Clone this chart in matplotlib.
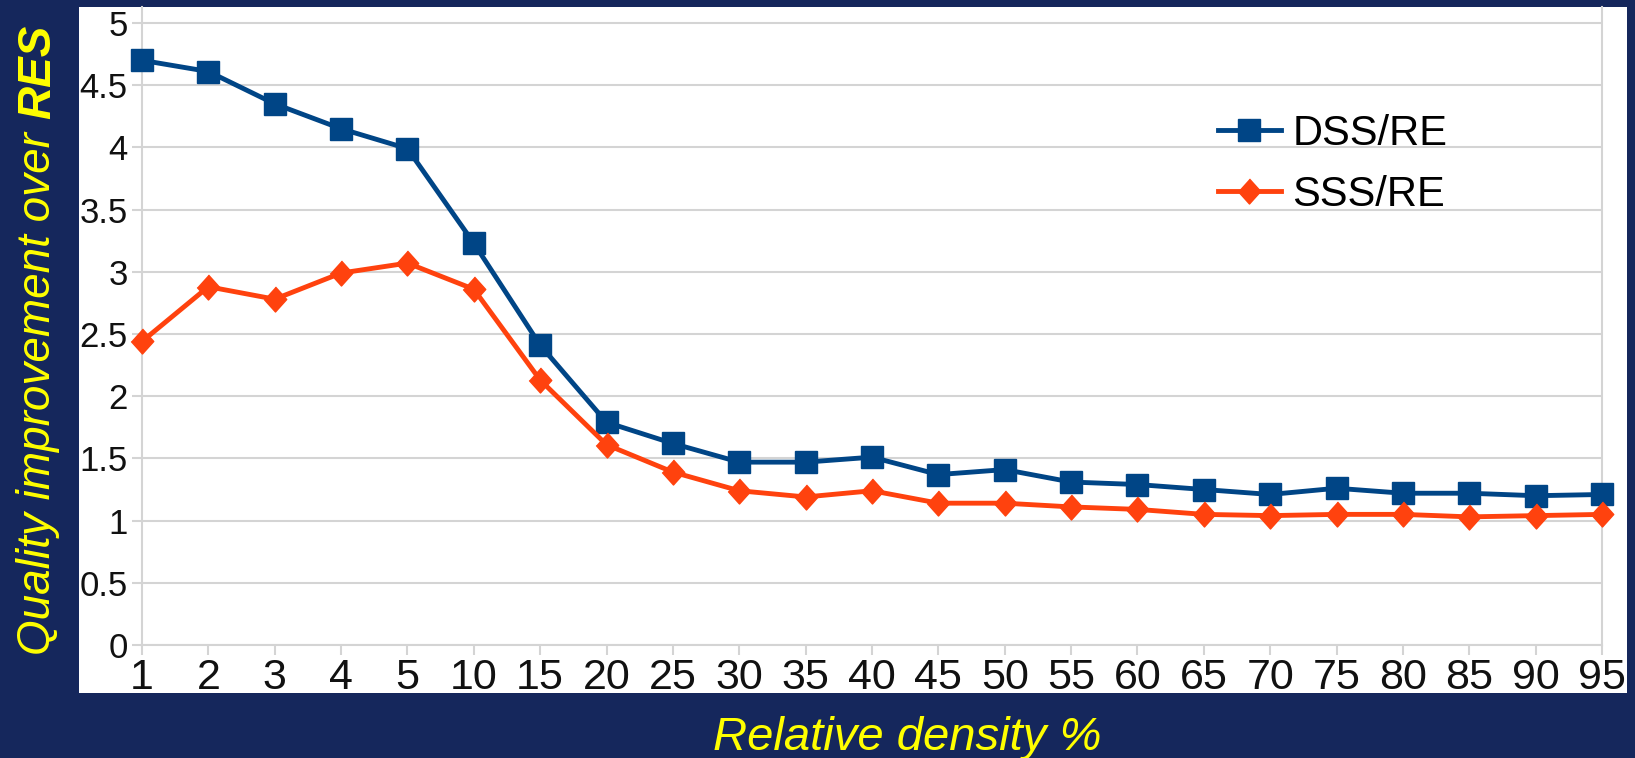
import matplotlib
matplotlib.use('Agg')
import matplotlib.pyplot as plt
from matplotlib.patches import Rectangle

# values
densities = ['1', '2', '3', '4', '5', '10', '15', '20', '25', '30', '35', '40',
             '45', '50', '55', '60', '65', '70', '75', '80', '85', '90', '95']
dss_re = [4.70, 4.61, 4.35, 4.15, 3.99, 3.23, 2.41, 1.79, 1.62, 1.47, 1.47, 1.51,
          1.37, 1.41, 1.31, 1.29, 1.25, 1.21, 1.26, 1.22, 1.22, 1.20, 1.21]
sss_re = [2.44, 2.88, 2.78, 2.99, 3.07, 2.86, 2.13, 1.61, 1.39, 1.24, 1.19, 1.24,
          1.14, 1.14, 1.11, 1.09, 1.05, 1.04, 1.05, 1.05, 1.03, 1.04, 1.05]
y_ticks = [0, 0.5, 1, 1.5, 2, 2.5, 3, 3.5, 4, 4.5, 5]
y_labels = ['0', '0.5', '1', '1.5', '2', '2.5', '3', '3.5', '4', '4.5', '5']

W, H = 1635, 758
navy = '#15275c'
grid_c = '#d4d4d4'
font = 'Liberation Sans'

fig = plt.figure(figsize=(W / 100, H / 100), dpi=100, facecolor=navy)

def fx(px):
    return px / W

def fy(py):
    return 1 - py / H

# white chart panel
fig.patches.append(Rectangle((fx(79), fy(693)), fx(1627 - 79), (693 - 7) / H,
                             transform=fig.transFigure, facecolor='white',
                             edgecolor='none', zorder=-1))

ax = fig.add_axes([fx(142), fy(645), fx(1602 - 142), (645 - 7) / H])
ax.set_facecolor('white')
xs = list(range(len(densities)))

diamond = [(0, 1), (0.9, 0), (0, -1), (-0.9, 0)]
ax.plot(xs, dss_re, color='#004586', lw=3.5, marker='s', ms=16, label='DSS/RE',
        clip_on=False, zorder=3)
ax.plot(xs, sss_re, color='#ff420e', lw=3.5, marker=diamond, ms=18, label='SSS/RE',
        clip_on=False, zorder=3)

ax.set_xlim(0, len(densities) - 1)
ax.set_ylim(0, 5 + 16 / 124.4)
ax.set_yticks(y_ticks)
ax.set_yticklabels(y_labels)
ax.set_xticks(xs)
ax.set_xticklabels(densities)
ax.yaxis.grid(True, color=grid_c, lw=1.5)
ax.set_axisbelow(True)
for side in ('left', 'right', 'bottom'):
    ax.spines[side].set_color(grid_c)
    ax.spines[side].set_linewidth(1.5)
ax.spines['top'].set_visible(False)
ax.tick_params(axis='x', length=7.2, width=1.5, color=grid_c, pad=2,
               labelsize=31, labelcolor='#111111')
ax.tick_params(axis='y', length=7.2, width=1.5, color=grid_c, pad=3,
               labelsize=25, labelcolor='#111111')
for lbl in ax.get_xticklabels() + ax.get_yticklabels():
    lbl.set_fontfamily(font)

ax.legend(loc='upper left', bbox_to_anchor=(fx(1218), fy(114)),
          bbox_transform=fig.transFigure, frameon=False,
          prop={'family': font, 'size': 30}, handlelength=1.5,
          handletextpad=0.29, labelspacing=0.5, borderpad=0, borderaxespad=0)

# navy strips that clip the tick labels at the panel edge
fig.patches.append(Rectangle((0, 0), 1, 65 / H, transform=fig.transFigure,
                             facecolor=navy, edgecolor='none', zorder=2))
fig.patches.append(Rectangle((fx(1627), 0), fx(8), 1, transform=fig.transFigure,
                             facecolor=navy, edgecolor='none', zorder=2))

# axis titles in yellow
fig.text(fx(907), fy(750), 'Relative density %', color='#ffff00', style='italic',
         family=font, fontsize=34, ha='center', va='baseline', zorder=4)
t1 = fig.text(fx(38), fy(655), 'Quality improvement over', color='#ffff00',
              style='italic', family=font, fontsize=33, rotation=90,
              ha='center', va='bottom', zorder=4)
fig.canvas.draw()
bb = t1.get_window_extent()
fig.text(fx(38), (bb.y1 + 13) / H, 'RES', color='#ffff00', style='italic',
         weight='bold', family=font, fontsize=33, rotation=90,
         ha='center', va='bottom', zorder=4)

fig.savefig('out.png', dpi=100, facecolor=navy)
